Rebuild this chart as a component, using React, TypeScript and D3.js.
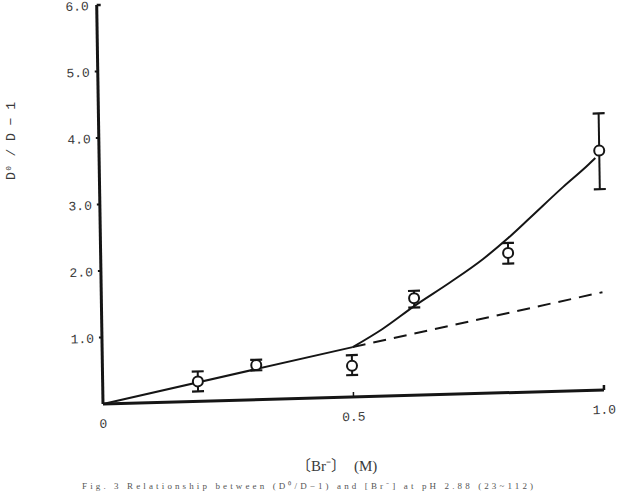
import React, { useEffect, useRef } from 'react';
import * as d3 from 'd3';

// Br- concentration (M) and D0/D - 1 with error bars
const brConc = [0.19, 0.307, 0.498, 0.624, 0.813, 0.998];
const ratio = [0.30, 0.52, 0.47, 1.46, 2.10, 3.60];
const errLow = [0.15, 0.08, 0.14, 0.14, 0.16, 0.58];
const errHigh = [0.15, 0.08, 0.16, 0.11, 0.15, 0.56];

// fitted line: straight up to 0.5 M, then curved
const lowX = [0, 0.5];
const lowY = [0, 0.75];
const fitX = [0.5, 0.56, 0.624, 0.696, 0.763, 0.813, 0.858, 0.925, 0.9725, 0.99];
const fitY = [0.75, 1.01, 1.34, 1.68, 2.02, 2.32, 2.62, 3.07, 3.37, 3.49];
// linear extrapolation (dashed)
const dashX = [0.5, 1.0];
const dashY = [0.75, 1.47];

const yTicks = [1, 2, 3, 4, 5, 6];
const xTickLabels = ['0', '0.5', '1.0'];
const xTickVals = [0, 0.5, 1.0];

const App: React.FC = () => {
  const svgRef = useRef<SVGSVGElement | null>(null);

  useEffect(() => {
    const svg = d3.select(svgRef.current);
    svg.selectAll('*').remove();

    const width = 632;
    const height = 491;
    const ink = '#151515';
    const mono = '"Liberation Mono", "DejaVu Sans Mono", monospace';

    svg.attr('width', width).attr('height', height);
    svg.append('rect').attr('width', width).attr('height', height).attr('fill', '#fff');

    const x = d3.scaleLinear().domain([0, 1]).range([0, 501]);
    const y = d3.scaleLinear().domain([0, 6]).range([0, -399]);

    // slight skew of the scanned page
    const g = svg.append('g')
      .attr('transform', 'translate(103,404) matrix(1,-0.028,0.0158,1,0,0)');

    // axes
    g.append('line').attr('x1', 0).attr('y1', 0).attr('x2', 0).attr('y2', y(6))
      .attr('stroke', ink).attr('stroke-width', 3);
    g.append('line').attr('x1', 0).attr('y1', 0).attr('x2', x(1)).attr('y2', 0)
      .attr('stroke', ink).attr('stroke-width', 3);
    g.append('line').attr('x1', x(1)).attr('y1', 0).attr('x2', x(1)).attr('y2', -5)
      .attr('stroke', ink).attr('stroke-width', 2.5);
    g.append('line').attr('x1', x(0.5)).attr('y1', 0).attr('x2', x(0.5)).attr('y2', -5)
      .attr('stroke', ink).attr('stroke-width', 1.5);
    g.append('line').attr('x1', 0).attr('y1', y(6)).attr('x2', 4).attr('y2', y(6))
      .attr('stroke', ink).attr('stroke-width', 2.5);

    g.selectAll('.ytick').data(yTicks.slice(0, 5)).enter().append('line')
      .attr('x1', -3).attr('x2', 0).attr('y1', (d) => y(d)).attr('y2', (d) => y(d))
      .attr('stroke', ink).attr('stroke-width', 2);

    g.selectAll('.ylab').data(yTicks).enter().append('text')
      .attr('x', -8).attr('y', (d) => y(d) + 5)
      .attr('text-anchor', 'end')
      .attr('font-family', mono).attr('font-size', 13).attr('fill', '#3a3a3a')
      .text((d) => d.toFixed(1));

    g.selectAll('.xlab').data(xTickVals).enter().append('text')
      .attr('x', (d) => x(d)).attr('y', 24)
      .attr('text-anchor', 'middle')
      .attr('font-family', mono).attr('font-size', 13).attr('fill', '#3a3a3a')
      .text((_, i) => xTickLabels[i]);

    // fitted line
    const low = d3.line<number>().x((_, i) => x(lowX[i])).y((d) => y(d));
    g.append('path').datum(lowY).attr('d', low)
      .attr('fill', 'none').attr('stroke', ink).attr('stroke-width', 2);

    const line = d3.line<number>()
      .x((_, i) => x(fitX[i]))
      .y((d) => y(d))
      .curve(d3.curveMonotoneX);
    g.append('path').datum(fitY).attr('d', line)
      .attr('fill', 'none').attr('stroke', ink).attr('stroke-width', 2);

    const dash = d3.line<number>().x((_, i) => x(dashX[i])).y((d) => y(d));
    g.append('path').datum(dashY).attr('d', dash)
      .attr('fill', 'none').attr('stroke', ink).attr('stroke-width', 2)
      .attr('stroke-dasharray', '13,8');

    // error bars
    const pts = g.selectAll('.pt').data(ratio).enter().append('g');
    pts.append('line')
      .attr('x1', (_, i) => x(brConc[i])).attr('x2', (_, i) => x(brConc[i]))
      .attr('y1', (d, i) => y(d - errLow[i])).attr('y2', (d, i) => y(d + errHigh[i]))
      .attr('stroke', ink).attr('stroke-width', 2);
    pts.append('line')
      .attr('x1', (_, i) => x(brConc[i]) - 6).attr('x2', (_, i) => x(brConc[i]) + 6)
      .attr('y1', (d, i) => y(d - errLow[i])).attr('y2', (d, i) => y(d - errLow[i]))
      .attr('stroke', ink).attr('stroke-width', 2.2);
    pts.append('line')
      .attr('x1', (_, i) => x(brConc[i]) - 6).attr('x2', (_, i) => x(brConc[i]) + 6)
      .attr('y1', (d, i) => y(d + errHigh[i])).attr('y2', (d, i) => y(d + errHigh[i]))
      .attr('stroke', ink).attr('stroke-width', 2.2);
    pts.append('circle')
      .attr('cx', (_, i) => x(brConc[i])).attr('cy', (d) => y(d)).attr('r', 5)
      .attr('fill', '#fff').attr('stroke', ink).attr('stroke-width', 2);

    // axis titles
    svg.append('text')
      .attr('transform', 'translate(15,141) rotate(-90)')
      .attr('text-anchor', 'middle')
      .attr('font-family', mono).attr('font-size', 13).attr('fill', '#3a3a3a')
      .text('D⁰ / D − 1');

    svg.append('text')
      .attr('x', 296).attr('y', 471)
      .attr('font-family', '"Liberation Serif", "Noto Sans CJK JP", serif')
      .attr('font-size', 15).attr('fill', '#3a3a3a')
      .text('〔Br⁻〕');
    svg.append('text')
      .attr('x', 354).attr('y', 471)
      .attr('font-family', '"Liberation Serif", serif')
      .attr('font-size', 15).attr('fill', '#3a3a3a')
      .text('(M)');

    // caption at the foot of the page
    svg.append('text')
      .attr('x', 82).attr('y', 489)
      .attr('font-family', '"Liberation Serif", serif')
      .attr('font-size', 9).attr('fill', '#555')
      .attr('textLength', 451)
      .text('Fig. 3  Relationship between (D⁰/D−1) and [Br⁻] at pH 2.88 (23~112)');
  }, []);

  return (
    <svg ref={svgRef} style={{ position: 'absolute', left: 0, top: 0, display: 'block' }}></svg>
  );
};

export default App;
